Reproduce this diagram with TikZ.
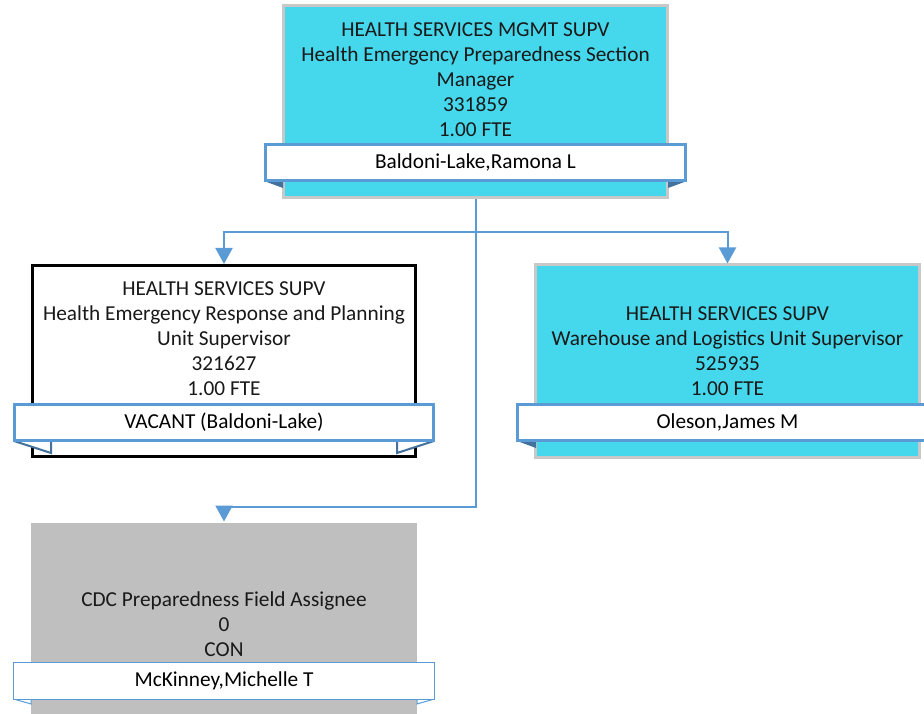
\documentclass[tikz,border=0pt]{standalone}
\usepackage{fontspec}
\setmainfont{Carlito}
\usetikzlibrary{arrows.meta}

\definecolor{posfill}{HTML}{45D8EC}
\definecolor{posedge}{HTML}{C8C8C8}
\definecolor{nameblue}{HTML}{5B9BD5}
\definecolor{folddark}{HTML}{41719C}
\definecolor{congray}{HTML}{BFBFBF}

\begin{document}
\begin{tikzpicture}[x=1pt, y=-1pt, >={Triangle[width=17pt,length=16pt]}, line join=miter]

    % Stili
    \tikzset{
        posbox/.style={rectangle, line width=3pt, minimum width=384pt, minimum height=192pt, inner sep=0pt},
        namebox/.style={rectangle, draw=nameblue, fill=white, line width=3pt, minimum width=420pt, minimum height=36pt, inner sep=0pt, font=\fontsize{21.3}{25}\selectfont},
        txt/.style={align=center, inner sep=0pt, text=black!90, font=\fontsize{21.3}{25}\selectfont},
        conn/.style={draw=nameblue, line width=2pt}
    }

    \clip (0,0) rectangle (924,714);

    % Riquadri delle posizioni
    \node[posbox, draw=posedge, fill=posfill] (mgr) at (475.5,101.5) {};
    \node[posbox, draw=black, fill=white, minimum width=383pt, minimum height=191pt] (resp) at (224,361) {};
    \node[posbox, draw=posedge, fill=posfill] (ware) at (727.5,361) {};
    \node[posbox, draw=none, fill=congray, minimum width=386pt, minimum height=230pt] (cdc) at (224,638) {};

    % Linguette sotto i nomi
    \fill[folddark] (264,181) -- (283,181) -- (283,188) -- cycle;
    \fill[folddark] (687,181) -- (668,181) -- (668,188) -- cycle;
    \draw[folddark, line width=2pt, fill=white] (14,441) -- (51,453) -- (51,441);
    \draw[folddark, line width=2pt, fill=white] (434,441) -- (397,453) -- (397,441);
    \fill[folddark] (517,441) -- (536,441) -- (536,448) -- cycle;
    \draw[nameblue, line width=1pt, fill=white] (13.5,699) -- (31,704) -- (31,699);
    \draw[nameblue, line width=1pt, fill=white] (434.5,699) -- (417,704) -- (417,699);

    % Testi
    \node[txt] (mgrt) at (475.5,80) {HEALTH SERVICES MGMT SUPV\\Health Emergency Preparedness Section\\Manager\\331859\\1.00 FTE};
    \node[txt] (respt) at (224,338.5) {HEALTH SERVICES SUPV\\Health Emergency Response and Planning\\Unit Supervisor\\321627\\1.00 FTE};
    \node[txt] (waret) at (727.5,351) {HEALTH SERVICES SUPV\\Warehouse and Logistics Unit Supervisor\\525935\\1.00 FTE};
    \node[txt] (cdct) at (224,624) {CDC Preparedness Field Assignee\\0\\CON};

    % Nomi
    \node[namebox] (mgrn) at (475.5,162.5) {Baldoni-Lake,Ramona L};
    \node[namebox, minimum width=419pt] (respn) at (224,422.5) {VACANT (Baldoni-Lake)};
    \node[namebox] (waren) at (727.5,422.5) {Oleson,James M};
    \node[namebox, line width=1pt, minimum width=421pt, minimum height=37pt] (cdcn) at (224,681) {McKinney,Michelle T};

    % Collegamenti
    \coordinate (split) at (476,232);
    \coordinate (down) at (224,507);
    \draw[conn] (mgr.south -| split) -- (split);
    \draw[conn,->] (split) -| (resp.north);
    \draw[conn,->] (split) -| (ware.north);
    \draw[conn,->] (split) |- (down) -- (cdc.north);

\end{tikzpicture}
\end{document}
